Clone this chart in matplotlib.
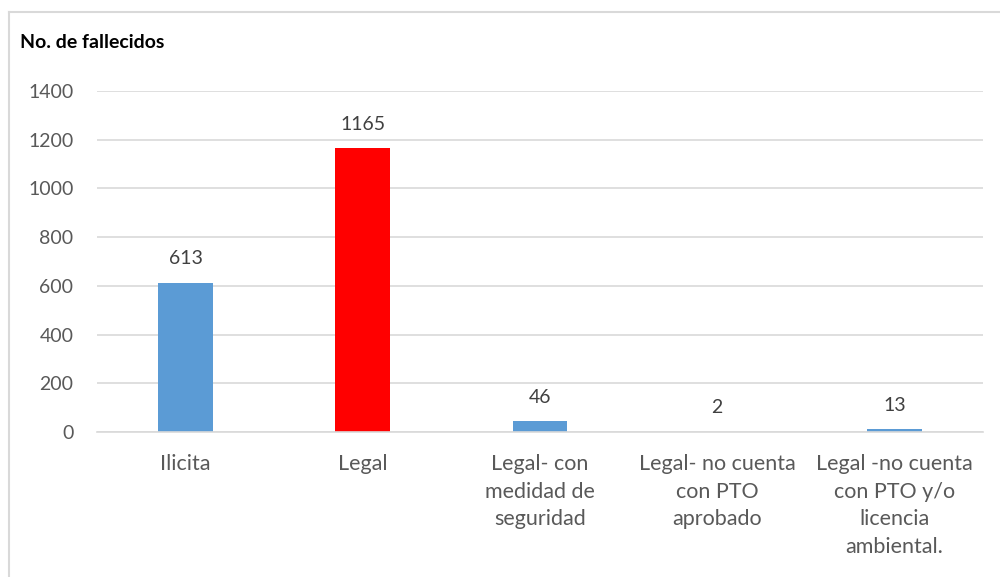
import matplotlib
matplotlib.use("Agg")
import matplotlib.pyplot as plt
from matplotlib.lines import Line2D

categories = ["Ilicita", "Legal", "Legal- con\nmedidad de\nseguridad",
              "Legal- no cuenta\ncon PTO\naprobado",
              "Legal -no cuenta\ncon PTO y/o\nlicencia\nambiental."]
values = [613, 1165, 46, 2, 13]
colors = ["#5B9BD5", "#FF0000", "#5B9BD5", "#5B9BD5", "#5B9BD5"]
yticks = [0, 200, 400, 600, 800, 1000, 1200, 1400]

plt.rcParams['font.family'] = ['Lato', 'DejaVu Sans']

W, H = 1000, 577
fig = plt.figure(figsize=(W / 100, H / 100), dpi=100)
ax = fig.add_axes([97 / W, 1 - 432 / H, (983 - 97) / W, (432 - 91) / H])

x = list(range(len(values)))
ax.bar(x, values, width=0.31, color=colors, zorder=3)
ax.set_xlim(-0.5, len(values) - 0.5)
ax.set_ylim(0, 1400)
ax.set_yticks(yticks)
ax.set_yticklabels([str(t) for t in yticks], fontsize=14, color="#595959")
ax.set_xticks(x)
ax.set_xticklabels(categories, fontsize=15.5, color="#595959", linespacing=1.47)
ax.tick_params(axis="both", length=0)
ax.tick_params(axis="x", pad=16)
ax.tick_params(axis="y", pad=17)
ax.yaxis.grid(True, color="#D9D9D9", linewidth=1.2, zorder=0)
for s in ["top", "right", "left"]:
    ax.spines[s].set_visible(False)
ax.spines["bottom"].set_color("#D9D9D9")
ax.spines["bottom"].set_linewidth(1.2)
ax.spines["bottom"].set_zorder(4)

for xi, v in zip(x, values):
    ax.annotate(str(v), (xi, v), xytext=(0, 11), textcoords="offset points",
                ha="center", va="bottom", fontsize=14, color="#404040")

fig.text(20 / W, 1 - 42 / H, "No. de fallecidos", fontsize=14, fontweight="bold",
         color="black", ha="left", va="center")

# outer chart frame
fig.add_artist(Line2D([9 / W, 9 / W], [0, 1 - 12 / H], transform=fig.transFigure,
                      color="#D9D9D9", linewidth=1.5))
fig.add_artist(Line2D([9 / W, 1], [1 - 12 / H, 1 - 12 / H], transform=fig.transFigure,
                      color="#D9D9D9", linewidth=1.5))

fig.savefig("out.png", dpi=100)
